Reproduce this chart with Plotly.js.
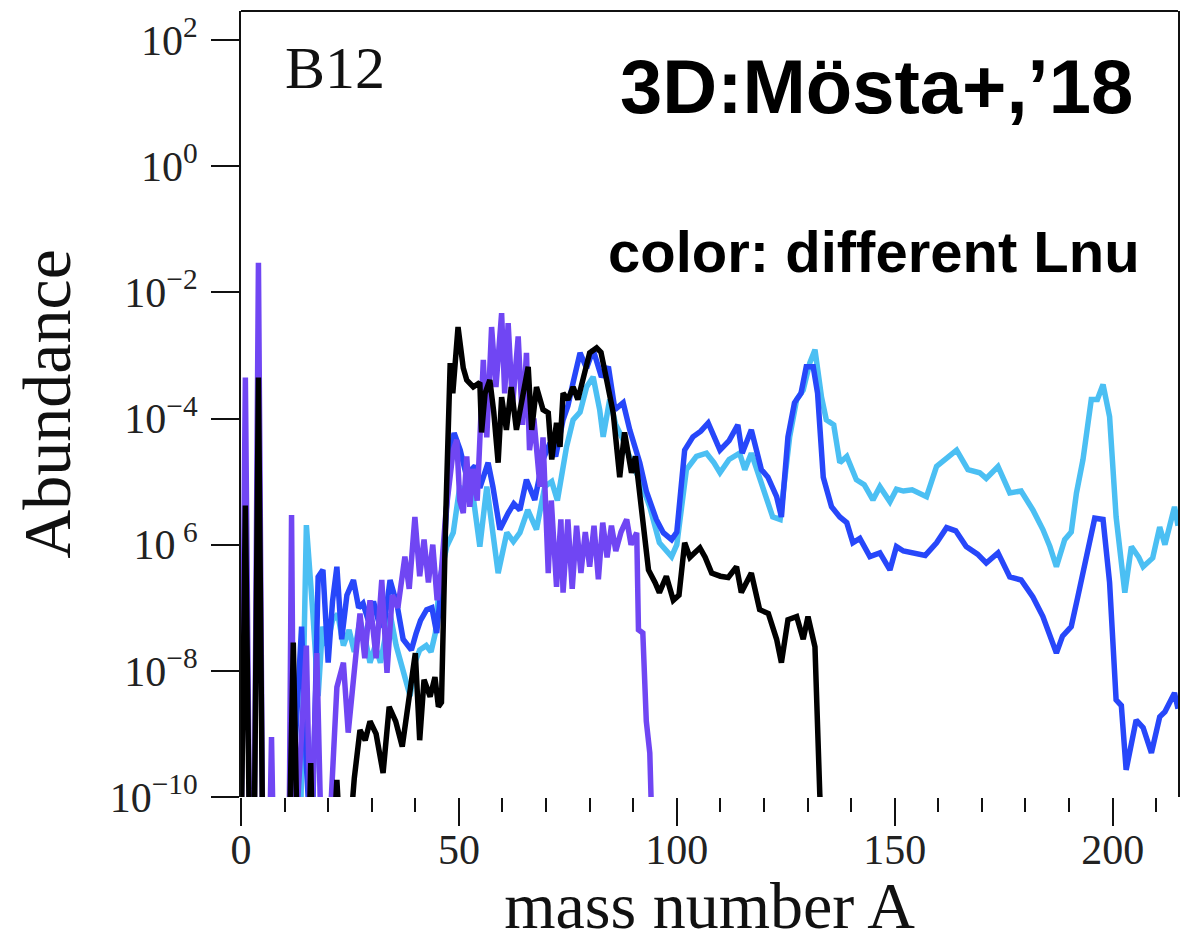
<!DOCTYPE html>
<html>
<head>
<meta charset="utf-8">
<script src="https://cdn.plot.ly/plotly-3.0.1.min.js"></script>
<style>html,body{margin:0;padding:0;background:#fff;}#chart{width:1190px;height:942px;}</style>
</head>
<body>
<div id="chart"></div>
<script>
// mass number A and log10(Abundance)
const blackA = [0,1,2,3,4,5,11,12,13,15.5,16,16.5,21,22,23,24.5,26,27.3,28.5,29.6,31,32.6,34,35.5,37,38.8,40,41,42,43.4,44.5,45.3,46,47,48,48.6,49.8,51,51.8,53.3,54.8,55.2,56,57.1,58,59,59.8,60.9,62,63.2,64.4,65.9,66.7,67.8,69.3,70.5,71.3,72.4,73.2,73.9,75,76.2,77.3,78.5,80,81.6,82.6,83.9,85.4,86.9,88,89.6,90.5,91.5,92.5,93.5,95,96,97.6,99.2,100.5,101.8,103,104.5,105.3,106.5,108,110,111.8,113.7,114.8,117.1,119,121,122.9,124,125.5,127.5,129,130.1,131.7,132.8,133.5];
const blackLog10 = [-11,-5.38,-11,-11,-3.35,-11,-11,-7.55,-11,-11,-9.46,-11,-11,-9.73,-11,-11,-9.7,-8.94,-9.1,-8.8,-9.0,-9.62,-8.57,-8.8,-9.2,-8.26,-7.72,-9.1,-8.14,-8.41,-8.1,-8.57,-8.5,-5.5,-3.12,-3.6,-2.55,-3.2,-3.39,-3.5,-3.43,-4.22,-3.6,-3.39,-3.9,-4.7,-3.66,-4.18,-3.5,-4.18,-3.7,-3.18,-4.18,-3.5,-3.86,-3.91,-4.65,-4.07,-4.45,-3.6,-3.7,-3.5,-3.7,-3.34,-2.96,-2.88,-2.95,-3.39,-3.91,-4.93,-4.22,-4.86,-4.6,-5.2,-5.9,-6.4,-6.6,-6.76,-6.5,-6.88,-6.8,-5.97,-6.2,-6.1,-6.05,-6.2,-6.45,-6.5,-6.52,-6.35,-6.76,-6.45,-7.03,-7.09,-7.5,-7.87,-7.19,-7.14,-7.5,-7.14,-7.62,-9.94,-11];

const purpleA = [0,1,2,3,4,5,6.5,7,7.5,11,11.6,12.2,13.5,15,16,17.4,18.5,20,22,23.5,24.6,25.8,27.3,28.4,29.6,31,32.3,33.5,34.7,36,37.6,38.6,39.9,41,42,43,44,45,46,47,48,48.7,49.5,50.2,51,51.8,52.5,53.2,54.2,55.6,56.4,57.5,58.5,59.8,60.5,61.3,62.3,63.6,64.6,65.5,66.2,67.2,68.6,69.3,70.5,71.2,72.4,73.4,73.9,75,76,77,78,79,80,81,82,83,84,85,86,87.2,88.5,89.5,90.8,91.2,92.2,93,93.8,94.5];
const purpleLog10 = [-11,-3.35,-11,-11,-1.53,-11,-11,-9.05,-11,-11,-5.53,-11,-9.5,-7.6,-11,-7.72,-11,-11,-8.26,-7.87,-8.98,-8.1,-7.09,-7.8,-6.88,-7.8,-6.56,-8.03,-6.8,-7.0,-6.19,-6.7,-5.56,-6.5,-5.92,-6.6,-6.0,-6.88,-6.4,-5.5,-4.8,-4.5,-4.34,-5.3,-5.5,-4.6,-5.4,-4.8,-5.3,-3.07,-4.3,-2.55,-3.5,-2.33,-3.6,-2.49,-3.8,-2.7,-4.1,-2.96,-4.5,-4.0,-5.08,-4.3,-6.45,-5.3,-6.67,-5.6,-6.76,-5.6,-6.7,-5.7,-6.45,-5.8,-6.35,-5.7,-6.55,-5.65,-6.2,-5.7,-6.1,-5.8,-5.6,-6.0,-5.81,-7.35,-7.4,-8.8,-9.3,-11];

const blueA = [11,13.9,15,16.2,17.7,18.8,20,21,22,23.1,24.3,25.8,27,28,29.2,30.4,31.5,32.8,34.2,35.8,37.2,39.1,40.2,41.2,42.6,43.8,44.9,46.4,47.9,48.9,50.3,51.8,53,53.7,54.8,56.7,57.8,59.4,61.3,62.6,64,65.5,67.4,69.3,70.9,72.2,73.9,75,76.2,77.8,79.3,80.8,82.7,84.3,85.8,87.7,89.2,91.5,93,95.3,96.9,98.8,100,101.8,103.7,105.5,107.2,109.1,109.9,112,114,115,117.1,119.4,120.9,122.9,124,125.5,127,128.5,129.7,131.3,132.3,133.6,135.5,137.4,139,140.4,142,144.3,146.6,148.9,150.4,152,154,157,159.6,161.9,164,166.4,169,171,173.7,176.4,179,181.7,184,185.6,187.1,188.5,190.5,192,194,195.9,197.8,199.3,200.8,202,203.1,205.4,207,208.9,210.8,212,214.2,215];
const blueLog10 = [-11,-7.3,-9.5,-11,-6.51,-6.4,-7.87,-6.9,-6.35,-7.5,-6.8,-6.56,-7.0,-6.93,-7.2,-6.9,-7.2,-7.3,-6.56,-6.95,-7.5,-7.67,-7.4,-7.2,-7.03,-7.0,-7.4,-6.35,-4.55,-4.23,-4.5,-4.93,-4.8,-4.75,-5.1,-4.7,-5.08,-5.76,-5.5,-5.35,-5.45,-4.97,-5.29,-4.65,-4.39,-4.6,-4.02,-3.8,-3.43,-2.96,-3.2,-2.91,-3.34,-3.18,-3.86,-3.75,-4.18,-4.7,-5.15,-5.6,-5.81,-5.92,-5.8,-4.5,-4.29,-4.2,-4.07,-4.34,-4.5,-4.35,-4.1,-4.55,-4.18,-4.81,-4.93,-5.24,-5.56,-4.29,-3.75,-3.6,-3.18,-3.18,-3.6,-4.93,-5.4,-5.56,-5.65,-5.97,-5.9,-6.19,-6.13,-6.4,-6.03,-6.1,-6.13,-6.17,-5.97,-5.73,-5.78,-6.03,-6.15,-6.29,-6.13,-6.51,-6.56,-6.83,-7.14,-7.46,-7.72,-7.45,-7.3,-6.83,-6.19,-5.58,-5.6,-6.6,-8.46,-8.55,-9.57,-8.78,-8.9,-9.3,-8.73,-8.65,-8.35,-8.6];

const cyanA = [13.5,15,16.5,17.7,18.7,19.7,21,22.2,23.5,24.8,26,27.3,28.5,29.6,30.8,32,33,34.2,35.6,37.2,38.8,40,41,42.5,43.6,44.6,45.6,47.2,48.7,50.2,51.5,53,54.8,56.4,57.5,59,61,62.5,64,65.8,67.8,69.7,71.3,72.6,74.7,76.2,77.8,79.3,80.8,82.3,83.1,84.6,86,87.7,90,91.5,93.8,96,98.8,100,102.2,104.5,106.8,108.5,109.9,112,114.4,115.6,117.1,119,122,123.7,125.9,127.5,129,130.5,131.7,133.2,134.3,136,137.4,139,141.2,143,145,146.6,148.9,150.4,152,154,157.3,159.6,161.5,164.2,166.8,169.5,171,173.7,176.4,179,181.7,184,185.6,187.1,189,190.5,191.7,193.2,195.1,196.5,197.8,199.3,200.8,202.8,204.3,206,207,209.2,210.8,212,214.2,215];
const cyanLog10 = [-11,-5.69,-7.09,-8.4,-7.3,-7.6,-7.2,-7.1,-7.6,-7.35,-7.7,-7.2,-7.5,-7.87,-7.6,-7.87,-7.5,-7.09,-7.6,-8.03,-8.4,-7.85,-7.67,-7.6,-7.7,-7.4,-6.56,-6.03,-5.81,-5.08,-5.2,-5.1,-6.03,-5.08,-5.7,-6.45,-5.81,-5.95,-5.81,-5.45,-5.76,-5.08,-5.0,-5.3,-4.45,-4.02,-3.9,-3.5,-3.34,-3.86,-4.29,-3.7,-4.1,-4.34,-4.76,-4.97,-5.4,-5.97,-6.19,-6.0,-4.81,-4.6,-4.55,-4.7,-4.86,-4.65,-4.55,-4.81,-4.55,-4.97,-5.56,-5.6,-4.29,-3.7,-3.55,-3.12,-2.91,-3.66,-4.02,-4.1,-4.7,-4.6,-4.97,-5.05,-5.29,-5.08,-5.32,-5.12,-5.15,-5.13,-5.24,-4.76,-4.65,-4.5,-4.81,-4.86,-4.95,-4.76,-5.18,-5.15,-5.45,-5.76,-6.03,-6.35,-5.92,-5.8,-5.18,-4.65,-3.7,-3.7,-3.46,-3.97,-5.56,-6.76,-6.03,-6.2,-6.35,-6.21,-5.72,-6.0,-5.4,-5.7];

const yTickVals = [1e-10, 1e-8, 1e-6, 1e-4, 1e-2, 1, 100];
const yTickText = ['10<sup>\u221210</sup>', '10<sup>\u22128</sup>', '10<sup>\u00a06</sup>', '10<sup>\u22124</sup>', '10<sup>\u22122</sup>', '10<sup>0</sup>', '10<sup>2</sup>'];

const toAbund = arr => arr.map(v => Math.pow(10, v));

function line(xs, logs, color) {
  return {x: xs, y: toAbund(logs), type: 'scatter', mode: 'lines',
          line: {color: color, width: 5.5}, hoverinfo: 'skip'};
}

const traces = [
  line(cyanA, cyanLog10, '#4bbff3'),
  line(blueA, blueLog10, '#2747fa'),
  line(purpleA, purpleLog10, '#7046f3'),
  line(blackA, blackLog10, '#000000')
];

const serif = 'Liberation Serif, Times New Roman, serif';
const sans = 'Liberation Sans, Arial, sans-serif';

const layout = {
  width: 1190, height: 942,
  margin: {l: 241, r: 12, t: 11, b: 145},
  paper_bgcolor: '#ffffff', plot_bgcolor: '#ffffff',
  showlegend: false,
  xaxis: {
    range: [0, 215], showline: false, zeroline: false, showgrid: false,
    ticks: 'outside', tickmode: 'linear', tick0: 0, dtick: 50,
    ticklen: 28, tickwidth: 2, tickcolor: '#111',
    ticklabelstandoff: -12,
    tickfont: {family: serif, size: 42, color: '#222'},
    minor: {ticks: 'outside', tick0: 0, dtick: 10, ticklen: 14, tickwidth: 2, tickcolor: '#111', showgrid: false},
    title: {text: 'mass number A', font: {family: serif, size: 66, color: '#111'}, standoff: 34}
  },
  yaxis: {
    type: 'log', range: [-10, 2.46], showline: true, mirror: true,
    linecolor: '#111', linewidth: 2, zeroline: false, showgrid: false,
    ticks: 'outside', tickmode: 'array', tickvals: yTickVals, ticktext: yTickText,
    ticklen: 28, tickwidth: 2, tickcolor: '#111',
    ticklabelstandoff: 5,
    tickfont: {family: serif, size: 42, color: '#222'},
    title: {text: 'Abundance', font: {family: serif, size: 68, color: '#111'}, standoff: 17}
  },
  shapes: [{type: 'line', xref: 'paper', yref: 'paper', x0: 0, x1: 1, y0: 1, y1: 1,
            line: {color: '#111', width: 2}}],
  annotations: [
    {text: 'B12', xref: 'paper', yref: 'paper', x: 0.1003, y: 0.9275,
     xanchor: 'center', yanchor: 'middle', showarrow: false,
     font: {family: serif, size: 60, color: '#111'}},
    {text: '3D:M\u00f6sta+,\u201918', xref: 'paper', yref: 'paper', x: 0.6777, y: 0.9035,
     xanchor: 'center', yanchor: 'middle', showarrow: false,
     font: {family: sans, size: 76, color: '#000', weight: 'bold'}},
    {text: 'color: different Lnu', xref: 'paper', yref: 'paper', x: 0.6757, y: 0.6935,
     xanchor: 'center', yanchor: 'middle', showarrow: false,
     font: {family: sans, size: 58, color: '#000', weight: 'bold'}}
  ]
};

Plotly.newPlot('chart', traces, layout, {staticPlot: true, displayModeBar: false});
</script>
</body>
</html>
